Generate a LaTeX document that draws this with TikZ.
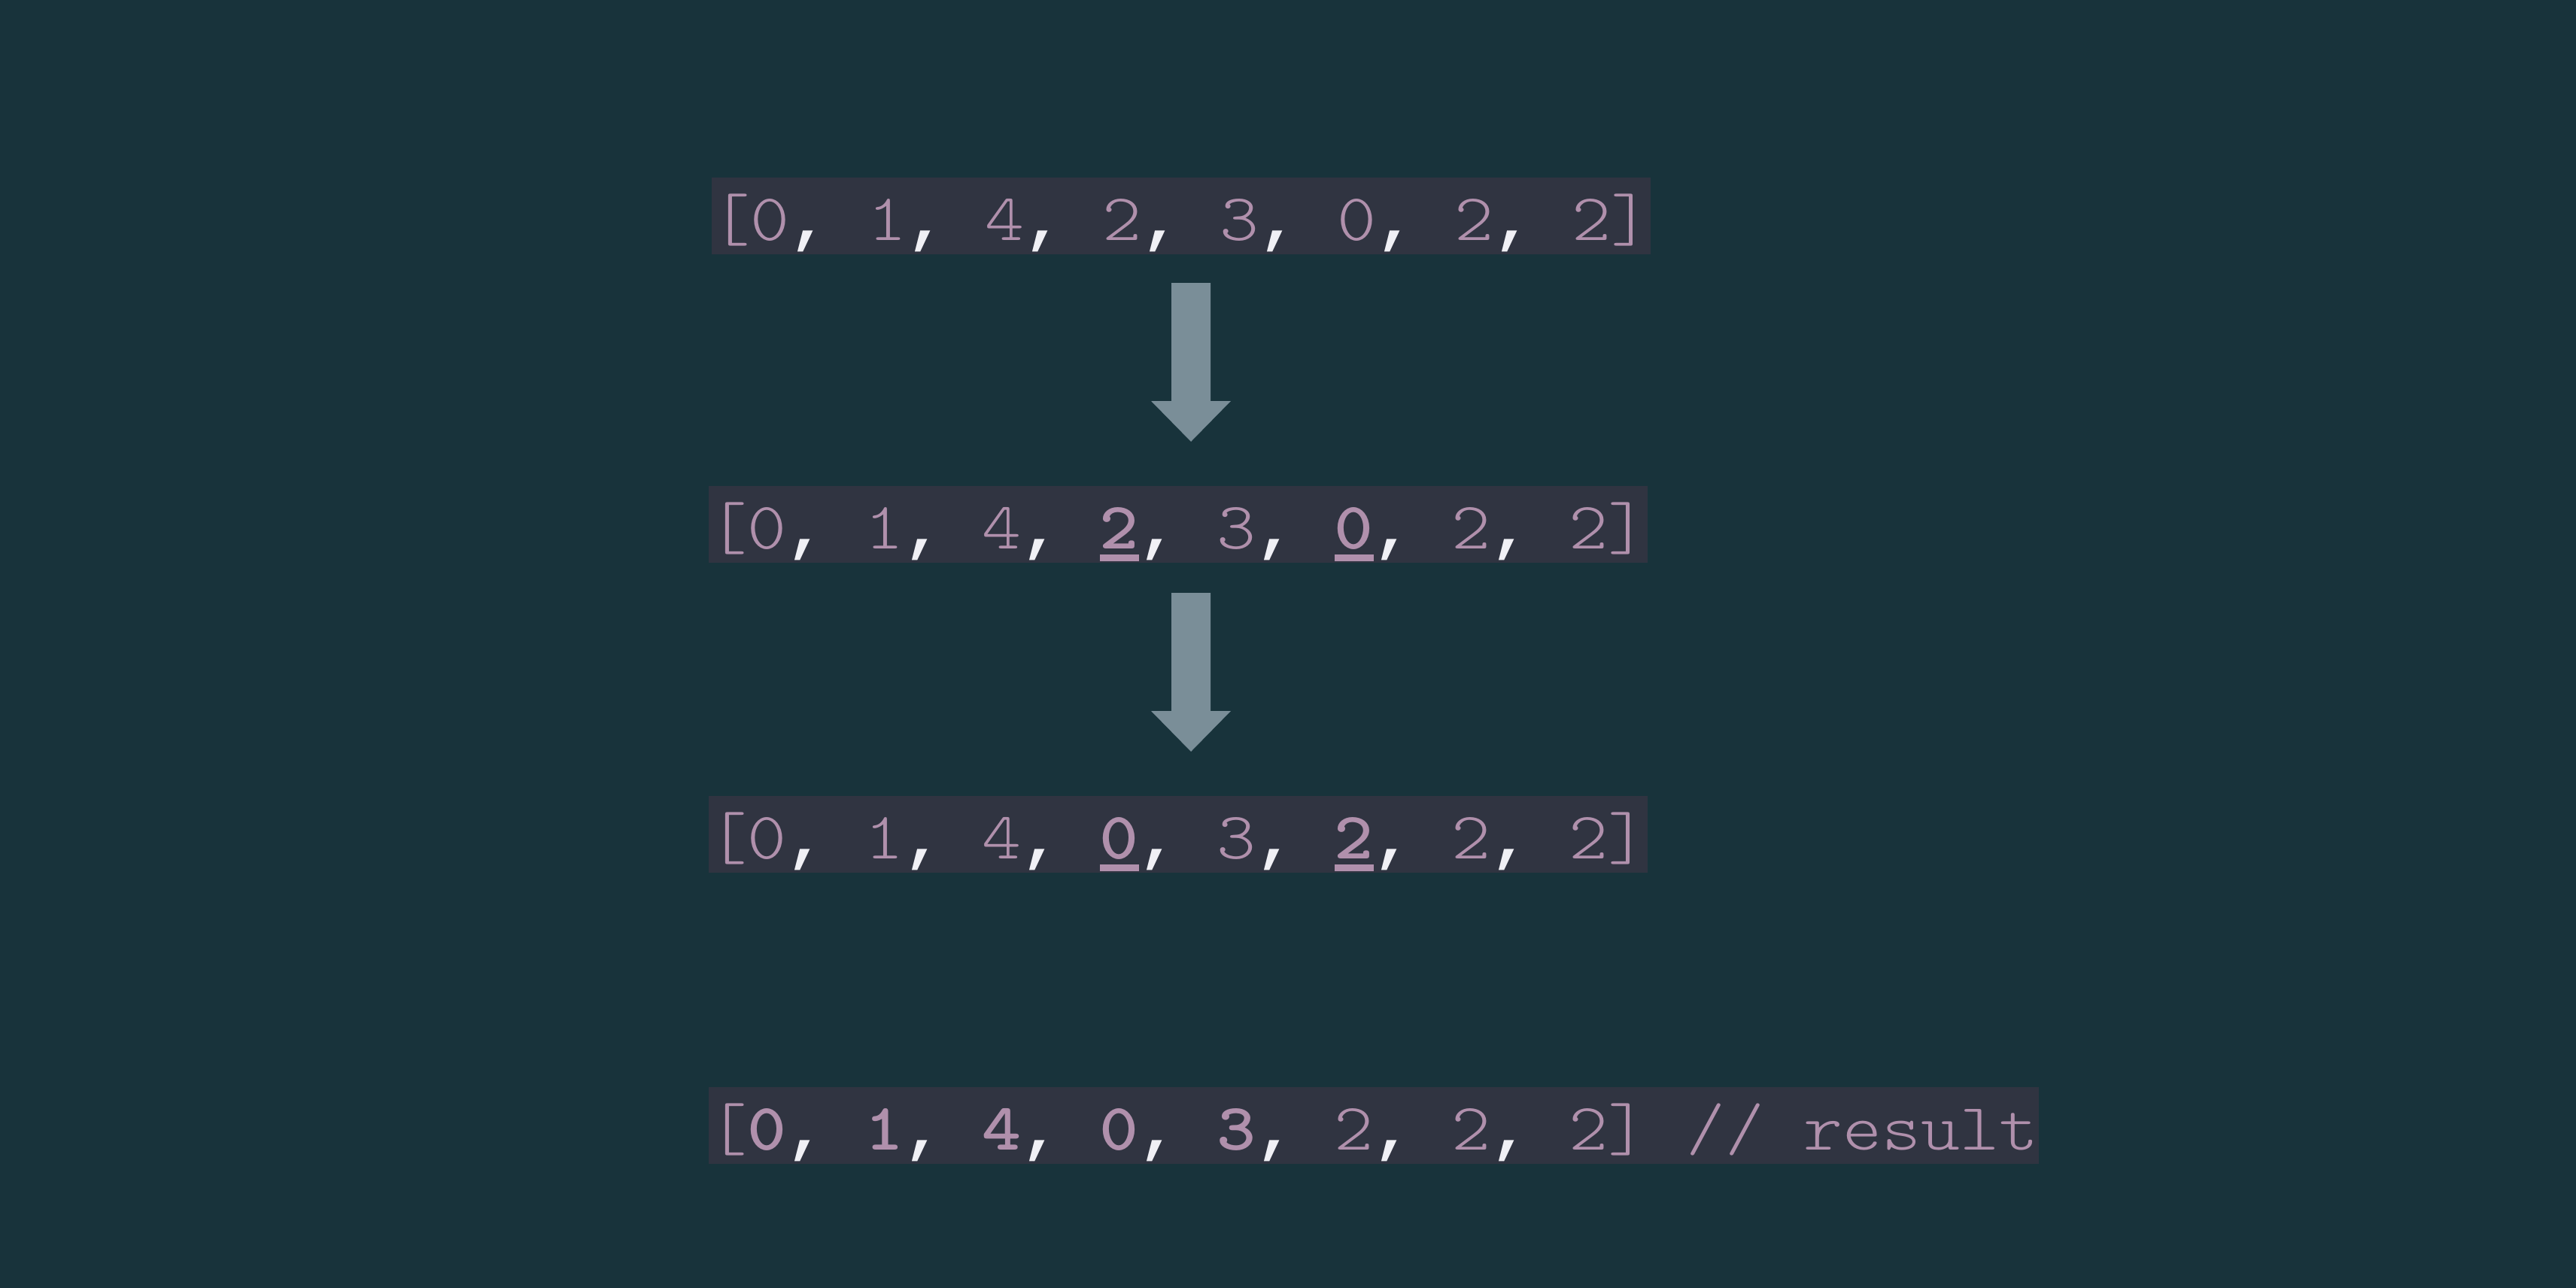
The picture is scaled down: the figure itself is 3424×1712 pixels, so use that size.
\documentclass[tikz,border=0pt]{standalone}
\usepackage{fontspec}
\setmonofont{lmmonolt10-regular.otf}[BoldFont=lmmonolt10-bold.otf, FakeStretch=1.1204]
\newfontfamily\cmfont{Liberation Mono}
\definecolor{bgcol}{HTML}{18333B}
\definecolor{boxcol}{HTML}{303441}
\definecolor{txtcol}{HTML}{B090AC}
\definecolor{cmcol}{HTML}{F0F0F5}
\definecolor{arrcol}{HTML}{7A8E98}
\newcommand\gap{\hbox to 13pt{}}
\newcommand\cma{\hbox to 13pt{\hss{\cmfont\fontsize{21.67pt}{26pt}\selectfont\color{cmcol}\bfseries,}\hss}}
\newcommand\uld[1]{\rlap{\rule[-4.25pt]{13pt}{2.25pt}}\textbf{#1}}
\tikzset{
  rowbox/.style={fill=boxcol, inner sep=0pt, anchor=base west,
    text height=20.75pt, text depth=4.75pt, text=txtcol,
    font=\ttfamily\fontsize{22.1pt}{26pt}\selectfont},
  blockarrow/.style={fill=arrcol}
}
\begin{document}
\begin{tikzpicture}[x=0.25pt,y=-0.25pt]
\useasboundingbox (0,0) rectangle (3424,1712);
\fill[bgcol] (0,0) rectangle (3424,1712);

\node[rowbox] (r1) at (945,319) {[0\cma\gap1\cma\gap4\cma\gap2\cma\gap3\cma\gap0\cma\gap2\cma\gap2]};
\node[rowbox] (r2) at (941,729) {[0\cma\gap1\cma\gap4\cma\gap\uld{2}\cma\gap3\cma\gap\uld{0}\cma\gap2\cma\gap2]};
\node[rowbox] (r3) at (941,1141) {[0\cma\gap1\cma\gap4\cma\gap\uld{0}\cma\gap3\cma\gap\uld{2}\cma\gap2\cma\gap2]};
\node[rowbox] (r4) at (941,1528) {[\textbf{0}\cma\gap\textbf{1}\cma\gap\textbf{4}\cma\gap\textbf{0}\cma\gap\textbf{3}\cma\gap2\cma\gap2\cma\gap2]\gap//\gap result};

\fill[blockarrow] (1557,376) -- (1609,376) -- (1609,533) -- (1636,533) -- (1583,587) -- (1530,533) -- (1557,533) -- cycle;
\fill[blockarrow] (1557,788) -- (1609,788) -- (1609,945) -- (1636,945) -- (1583,999) -- (1530,945) -- (1557,945) -- cycle;
\end{tikzpicture}
\end{document}
